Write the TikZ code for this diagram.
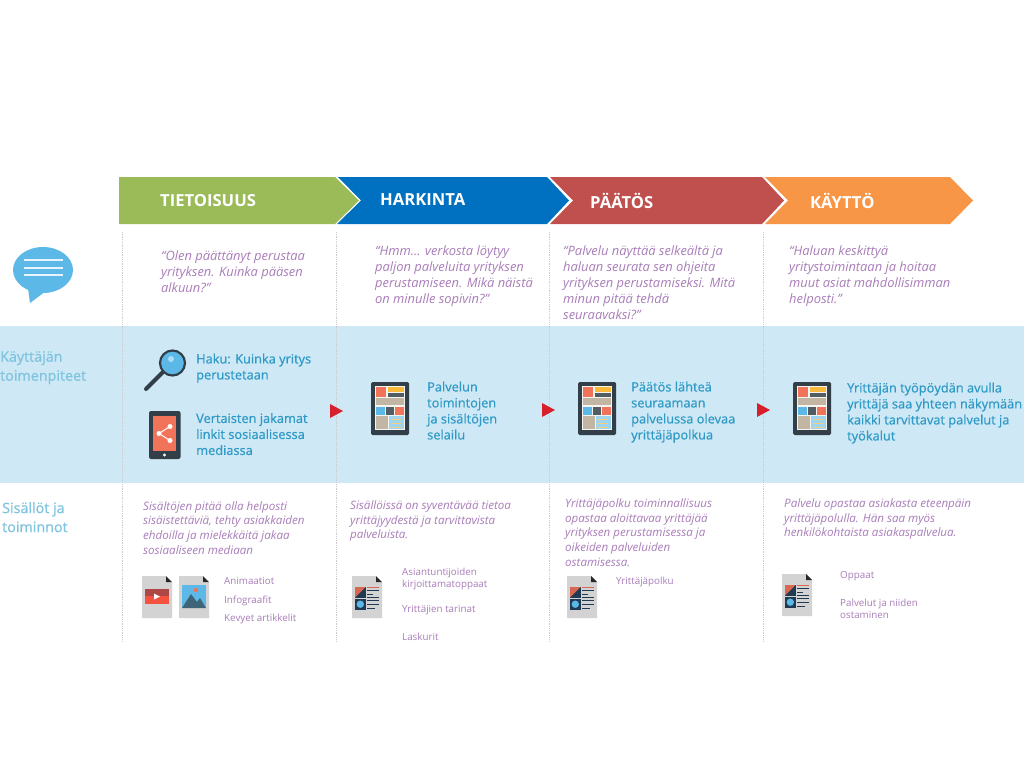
\documentclass[tikz,border=0pt]{standalone}
\usepackage{fontspec}
\setmainfont{Open Sans}
\newfontfamily\semifont[FakeBold=0.7]{Open Sans}
\usetikzlibrary{positioning}
\definecolor{cgreen}{HTML}{9BBB59}
\definecolor{cblue}{HTML}{0070C0}
\definecolor{cred}{HTML}{C0504D}
\definecolor{corange}{HTML}{F79646}
\definecolor{cband}{HTML}{CEE8F5}
\definecolor{cpurple}{HTML}{A97DB9}
\definecolor{cacttxt}{HTML}{2F9AC6}
\definecolor{csidetxt}{HTML}{7FC4DF}
\definecolor{cdark}{HTML}{333F48}
\definecolor{cnavy}{HTML}{1F3A52}
\definecolor{csky}{HTML}{5CB8E6}
\definecolor{csalmon}{HTML}{F0735A}
\definecolor{ctan}{HTML}{C2B5A3}
\definecolor{cyell}{HTML}{F9B93C}
\definecolor{cdoc}{HTML}{D3D3D3}
\definecolor{cpointer}{HTML}{D7202C}
\tikzset{
  % stage titles in the chevrons
  hdrlabel/.style  = {anchor=west, inner sep=0pt, text=white, font=\fontsize{16.6}{18}\selectfont\bfseries},
  % quotes below the chevrons
  quotetxt/.style  = {anchor=north west, inner sep=0pt, align=left, text=cpurple, font=\fontsize{12.9}{16}\selectfont\itshape},
  % text in the blue band
  acttxt/.style    = {anchor=north west, inner sep=0pt, align=left, text=cacttxt, font=\fontsize{12.8}{16}\selectfont\semifont},
  % row labels on the left
  sidelabel/.style = {anchor=north west, inner sep=0pt, align=left, text=csidetxt, font=\fontsize{14.3}{19}\selectfont\semifont},
  % description under the band
  desctxt/.style   = {anchor=north west, inner sep=0pt, align=left, text=cpurple, font=\fontsize{11.6}{14.7}\selectfont\itshape},
  % small lists beside the page icons
  listtxt/.style   = {anchor=west, inner sep=0pt, align=left, text=cpurple, font=\fontsize{9.8}{11.5}\selectfont},
  sepline/.style   = {black!20, line width=0.8pt, densely dotted},
  % tablet with page layout
  pics/tabletico/.style = {code={
    \fill[cdark, rounded corners=1.5pt] (0,0) rectangle (38,53);
    \fill[white!85!ctan] (4,4) rectangle (33.5,48);
    \fill[csalmon] (5.3,4.5) rectangle (15.3,15);
    \fill[cyell] (17,5) rectangle (32.7,10);
    \fill[cdark!85] (17,11) rectangle (32.7,15);
    \fill[ctan] (5.3,16.3) rectangle (32.7,23.3);
    \fill[csky] (5.3,25) rectangle (13.7,32.7);
    \fill[cdark!85] (15,25) rectangle (23.3,32.7);
    \fill[csalmon] (24.3,25) rectangle (32.7,32.7);
    \fill[ctan] (5.3,34.3) rectangle (17,47);
    \fill[csky!60] (18,34.3) rectangle (32.7,47);
    \foreach \yy in {37,41,45} {\fill[cyell!70] (20,\yy) rectangle (30,\yy+1.3);}
  }},
  % grey page, folded corner
  pics/pageico/.style = {code={
    \fill[cdoc] (0,0) -- (24,0) -- (24,6) -- (30,6) -- (30,42) -- (0,42) -- cycle;
    \fill[black!85] (24,0) -- (24,6) -- (30,6) -- cycle;
  }},
  % page with blocks and text lines
  pics/reportico/.style = {code={
    \pic at (0,0) {pageico};
    \fill[cnavy] (3,11) rectangle (13.7,21.7);
    \fill[csalmon!90!black] (3,11) -- (13.7,11) -- (3,21.7) -- cycle;
    \fill[cnavy] (3,23) rectangle (13.7,33.5);
    \fill[csky] (8.3,28.2) circle (3.7);
    \fill[csalmon!90!black] (15,10.5) rectangle (27,11.8);
    \foreach \yy/\ww in {14/27,17.5/21,20.5/27,24/27,27.5/27,31.5/23} {\fill[cnavy] (15,\yy) rectangle (\ww,\yy+1.4);}
  }},
}
\begin{document}
\begin{tikzpicture}[x=1pt,y=-1pt]
  \useasboundingbox (0,0) rectangle (1024,768);
  \fill[white] (0,0) rectangle (1024,768);
  % band behind the user actions
  \fill[cband] (0,326) rectangle (1024,483);
  \foreach \xx/\nn in {122/a,336/b,549/c,763/d} {
    \coordinate (top\nn) at (\xx,232);
    \coordinate (bot\nn) at (\xx,641);
    \draw[sepline] (top\nn) -- (bot\nn);
  }

  % chevrons
  \fill[cgreen] (119,177) -- (335,177) -- (359,200.5) -- (335,224) -- (119,224) -- cycle;
  \fill[cblue] (338,177) -- (547,177) -- (569,200.5) -- (547,224) -- (337,224) -- (361,200.5) -- cycle;
  \fill[cred] (550,177) -- (762,177) -- (784,200.5) -- (762,224) -- (550,224) -- (573,200.5) -- cycle;
  \fill[corange] (765,177) -- (950,177) -- (973,200.5) -- (950,224) -- (765,224) -- (788,200.5) -- cycle;
  \node[hdrlabel] (tietoisuus) at (160,201) {TIETOISUUS};
  \node[hdrlabel] (harkinta) at (380,200) {HARKINTA};
  \node[hdrlabel] (paatos) at (590,201) {PÄÄTÖS};
  \node[hdrlabel] (kaytto) at (810,201) {KÄYTTÖ};

  % speech bubble
  \fill[csky] (43,270) ellipse (30 and 23);
  \fill[csky] (28,288) -- (30,303) -- (46,291) -- cycle;
  \foreach \yy in {260,268,275} {\fill[white!85!csky] (24,\yy-1.4) rectangle (62.5,\yy+1.4);}

  % quotes
  \node[quotetxt] (quotea) at (161,250.5) {“Olen päättänyt perustaa\\yrityksen. Kuinka pääsen\\alkuun?”};
  \node[quotetxt] (quoteb) at (375,245.5) {“Hmm... verkosta löytyy\\paljon palveluita yrityksen\\perustamiseen. Mikä näistä\\on minulle sopivin?”};
  \node[quotetxt] (quotec) at (563,245.5) {“Palvelu näyttää selkeältä ja\\haluan seurata sen ohjeita\\yrityksen perustamiseksi. Mitä\\minun pitää tehdä\\seuraavaksi?”};
  \node[quotetxt] (quoted) at (789,245.5) {“Haluan keskittyä\\yritystoimintaan ja hoitaa\\muut asiat mahdollisimman\\helposti.”};

  % row labels
  \node[sidelabel] (rowact) at (0,351) {Käyttäjän\\toimenpiteet};
  \node[sidelabel] (rowcont) at (2,502) {Sisällöt ja\\toiminnot};

  % magnifier
  \draw[cdark, line width=4pt, line cap=round] (163,372) -- (146,389);
  \fill[csky, draw=cdark, line width=2.2pt] (172.5,363) circle (12.5);
  \fill[white!50!csky] (171,359) circle (3);
  % phone
  \fill[cdark, rounded corners=2pt] (149,411) rectangle (180.5,459);
  \fill[csalmon] (153,416) rectangle (176,451);
  \fill[white] (164.5,455) circle (1.6);
  \draw[white, line width=1pt] (170,426.5) -- (159,433.5) -- (170,440.5);
  \foreach \xx/\yy in {170/426.5,159/433.5,170/440.5} {\fill[white] (\xx,\yy) circle (2.5);}

  % actions
  \node[acttxt] (hakua) at (196,353.5) {Haku: Kuinka yritys\\perustetaan};
  \node[acttxt] (vertaiset) at (196,413) {Vertaisten jakamat\\linkit sosiaalisessa\\mediassa};
  \pic at (371,382) {tabletico};
  \node[acttxt] (selailu) at (427,381.5) {Palvelun\\toimintojen\\ja sisältöjen\\selailu};
  \pic at (578,382) {tabletico};
  \node[acttxt] (lahtea) at (631,381.5) {Päätös lähteä\\seuraamaan\\palvelussa olevaa\\yrittäjäpolkua};
  \pic at (793,382) {tabletico};
  \node[acttxt] (tyopoyta) at (847,382.5) {Yrittäjän työpöydän avulla\\yrittäjä saa yhteen näkymään\\kaikki tarvittavat palvelut ja\\työkalut};

  % red pointers
  \fill[cpointer] (330,404) -- (343,411) -- (330,418) -- cycle;
  \fill[cpointer] (542,403) -- (555,410) -- (542,417) -- cycle;
  \fill[cpointer] (757,403) -- (770,410) -- (757,417) -- cycle;

  % descriptions
  \node[desctxt] (desca) at (143,501) {Sisältöjen pitää olla helposti\\sisäistettäviä, tehty asiakkaiden\\ehdoilla ja mielekkäitä jakaa\\sosiaaliseen mediaan};
  \node[desctxt] (descb) at (350,500.5) {Sisällöissä on syventävää tietoa\\yrittäjyydestä ja tarvittavista\\palveluista.};
  \node[desctxt] (descc) at (565,498.5) {Yrittäjäpolku toiminnallisuus\\opastaa aloittavaa yrittäjää\\yrityksen perustamisessa ja\\oikeiden palveluiden\\ostamisessa.};
  \node[desctxt] (descd) at (784,498.5) {Palvelu opastaa asiakasta eteenpäin\\yrittäjäpolulla. Hän saa myös\\henkilökohtaista asiakaspalvelua.};

  % video page
  \pic at (142,576) {pageico};
  \fill[cred!90!black] (145,589) rectangle (169,596);
  \fill[csalmon!70!red] (145,596) rectangle (169,604);
  \fill[white] (154,593.5) -- (160,596.5) -- (154,599.5) -- cycle;
  % picture page
  \pic at (179,576) {pageico};
  \fill[csky] (182,585) rectangle (206,608);
  \fill[csalmon] (196,590) circle (2.2);
  \fill[cdark!70!csky] (182,608) -- (191,594) -- (197,602) -- (200,598) -- (206,608) -- cycle;
  % report pages
  \pic at (352,576) {reportico};
  \pic at (567,576) {reportico};
  \pic at (782,574) {reportico};

  % lists
  \node[listtxt] (anim) at (224,580.5) {Animaatiot};
  \node[listtxt] (info) at (224,600.5) {Infograafit};
  \node[listtxt] (kevyet) at (224,618.5) {Kevyet artikkelit};
  \node[listtxt] (oppaat) at (402,579) {Asiantuntijoiden\\kirjoittamatoppaat};
  \node[listtxt] (tarinat) at (402,610.5) {Yrittäjien tarinat};
  \node[listtxt] (laskurit) at (402,636.5) {Laskurit};
  \node[listtxt] (polku) at (616,581.5) {Yrittäjäpolku};
  \node[listtxt] (opas) at (840,576.5) {Oppaat};
  \node[listtxt] (ostaminen) at (840,609) {Palvelut ja niiden\\ostaminen};
\end{tikzpicture}
\end{document}
